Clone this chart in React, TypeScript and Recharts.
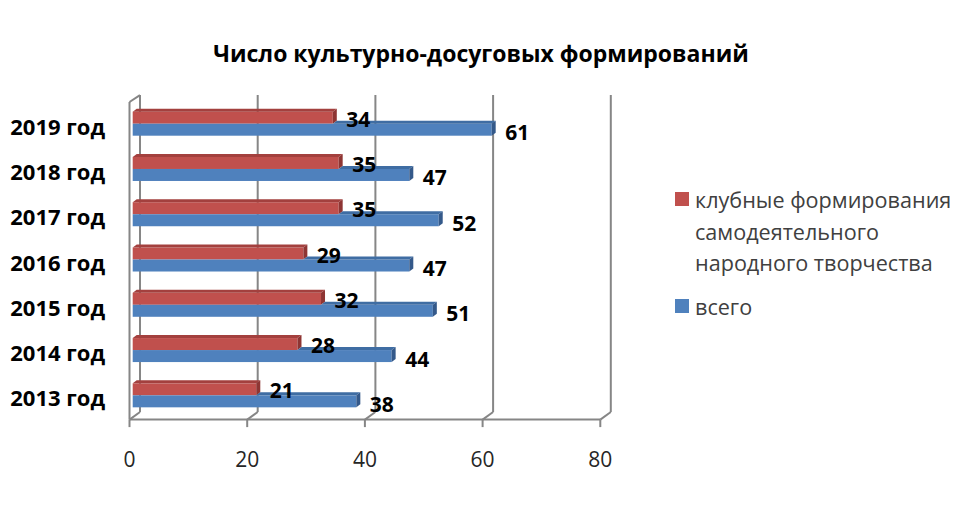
import { BarChart, Bar, XAxis, YAxis, CartesianGrid, Legend, LabelList } from 'recharts';

const years = ['2019 год', '2018 год', '2017 год', '2016 год', '2015 год', '2014 год', '2013 год'];
const clubs = [34, 35, 35, 29, 32, 28, 21];
const total = [61, 47, 52, 47, 51, 44, 38];
const xTicks = [0, 20, 40, 60, 80];

const clubsName = 'клубные формирования самодеятельного народного творчества';
const totalName = 'всего';

const data = years.map((year, i) => ({ year, clubs: clubs[i], total: total[i] }));

const W = 960;
const H = 510;
const FONT = "'Open Sans', sans-serif";
const GRID = '#868686';

// depth of the 3d bars
const DX = 4;
const DY = 3;

// offsets of the front / back planes of the box relative to the bar plane
const FRONT = { dx: -3.2, dy: 2 };
const BACK = { dx: 7.3, dy: -5.6 };

const bar3d = (front: string, top: string, side: string, hideTopUnder?: string) => (props: any) => {
  const { x, y, width, height, payload } = props;
  if (!width || width <= 0) return null;
  let topStart = x;
  if (hideTopUnder && payload) {
    const perUnit = width / payload.total;
    topStart = Math.min(x + width, x + payload[hideTopUnder] * perUnit);
  }
  const x1 = x + width;
  return (
    <g>
      <rect x={x} y={y} width={width} height={height} fill={front} />
      {x1 > topStart && (
        <polygon
          points={`${topStart},${y} ${topStart + DX},${y - DY} ${x1 + DX},${y - DY} ${x1},${y}`}
          fill={top}
        />
      )}
      <polygon
        points={`${x1},${y} ${x1 + DX},${y - DY} ${x1 + DX},${y + height - DY} ${x1},${y + height}`}
        fill={side}
      />
    </g>
  );
};

const gridLine = (props: any) => {
  const { x1, y1, y2, index, verticalPoints } = props;
  const fx = x1 + FRONT.dx;
  const fy = y2 + FRONT.dy;
  const bx = x1 + BACK.dx;
  const last = verticalPoints ? verticalPoints[verticalPoints.length - 1] : x1;
  return (
    <g key={`g-${index}`} stroke={GRID} strokeWidth={2} fill="none">
      <line x1={bx} y1={y1 + BACK.dy} x2={bx} y2={y2 + BACK.dy} />
      <line x1={fx} y1={fy} x2={bx} y2={y2 + BACK.dy} />
      <line x1={fx} y1={fy} x2={fx} y2={fy + 7.5} />
      {index === 0 && (
        <>
          <line x1={fx} y1={fy} x2={last + FRONT.dx} y2={fy} />
          <line x1={fx} y1={y1 + 1.3} x2={fx} y2={fy} />
          <line x1={fx} y1={y1 + 1.3} x2={bx} y2={y1 + BACK.dy} />
          {/* chart frame, only top and bottom edges are in view */}
          <line x1={0} y1={2} x2={W} y2={2} stroke="#9a9a9a" strokeWidth={2.2} />
          <line x1={0} y1={507} x2={W} y2={507} stroke="#9a9a9a" strokeWidth={2.2} />
        </>
      )}
    </g>
  );
};

const XTick = (props: any) => {
  const { x, y, payload } = props;
  return (
    <text x={x + FRONT.dx} y={y + 49} textAnchor="middle" fontFamily={FONT} fontSize={21} fill="#262626">
      {payload.value}
    </text>
  );
};

const YTick = (props: any) => {
  const { x, y, payload } = props;
  return (
    <text x={x - 27.7} y={y + 11.5} textAnchor="end" fontFamily={FONT} fontSize={22} fontWeight={700} fill="#000">
      {payload.value}
    </text>
  );
};

const barLabel = (dy: number) => (props: any) => {
  const { x, y, width, height, value } = props;
  return (
    <text
      x={x + width + 13.5}
      y={y + height / 2 + dy}
      dominantBaseline="central"
      fontFamily={FONT}
      fontSize={21}
      fontWeight={700}
      fill="#000"
    >
      {value}
    </text>
  );
};

const LegendBox = (props: any) => {
  const items = props.payload || [];
  return (
    <div style={{ fontFamily: FONT, fontSize: 21.6, color: '#404040', lineHeight: '31.5px', textAlign: 'left' }}>
      {items.map((it: any, i: number) => (
        <div key={i} style={{ display: 'flex', alignItems: 'flex-start', marginBottom: 12 }}>
          <span
            style={{ width: 14, height: 14, background: it.color, marginTop: 8, marginRight: 6, flex: 'none' }}
          />
          <span style={{ width: 266 }}>{it.value}</span>
        </div>
      ))}
    </div>
  );
};

export default function App() {
  return (
    <div style={{ position: 'relative', width: W, height: H, margin: -8, background: '#fff' }}>
      <div
        style={{
          position: 'absolute',
          left: 0,
          top: 37,
          width: 962,
          textAlign: 'center',
          fontFamily: FONT,
          fontSize: 23,
          fontWeight: 700,
          color: '#000',
        }}
      >
        Число культурно-досуговых формирований
      </div>
      <BarChart
        width={W}
        height={H}
        layout="vertical"
        data={data}
        barSize={12}
        barGap={0}
        margin={{ top: 100.7, right: 356.5, bottom: 62.4, left: 0 }}
      >
        <CartesianGrid horizontal={false} vertical={gridLine} />
        <XAxis
          type="number"
          domain={[0, 80]}
          ticks={xTicks}
          height={30}
          axisLine={false}
          tickLine={false}
          tickSize={0}
          tickMargin={0}
          tick={<XTick />}
        />
        <YAxis
          type="category"
          dataKey="year"
          width={132.7}
          axisLine={false}
          tickLine={false}
          tickSize={0}
          tickMargin={0}
          tick={<YTick />}
        />
        <Legend
          layout="vertical"
          align="center"
          verticalAlign="middle"
          itemSorter="dataKey"
          content={<LegendBox />}
          wrapperStyle={{ left: 675, top: 184, width: 285 }}
        />
        <Bar
          dataKey="clubs"
          name={clubsName}
          fill="#C0504D"
          isAnimationActive={false}
          shape={bar3d('#C0504D', '#A3403E', '#8E3533')}
        >
          <LabelList dataKey="clubs" content={barLabel(1)} />
        </Bar>
        <Bar
          dataKey="total"
          name={totalName}
          fill="#4F81BD"
          isAnimationActive={false}
          shape={bar3d('#4F81BD', '#3F6DA3', '#34598A', 'clubs')}
        >
          <LabelList dataKey="total" content={barLabel(2.5)} />
        </Bar>
      </BarChart>
    </div>
  );
}
